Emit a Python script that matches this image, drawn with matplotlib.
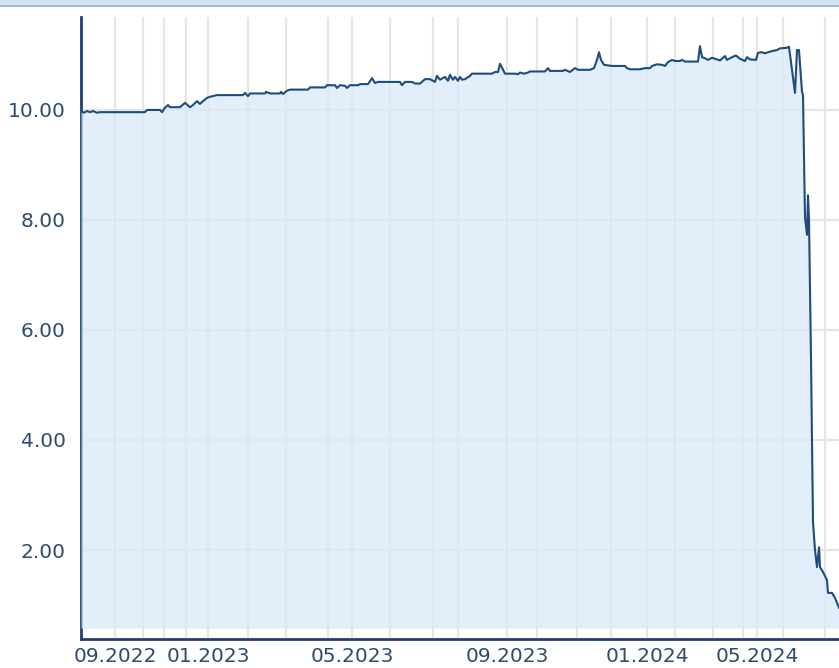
import matplotlib
matplotlib.use("Agg")
import matplotlib.pyplot as plt
from matplotlib.patches import Rectangle

# observation index (trading-day position) and price values
day_index = [0, 3, 6, 9, 12, 16, 19, 64, 66, 79, 81, 84, 87, 89, 99, 104, 109, 112, 116, 119,
             122, 126, 129, 136, 162, 164, 167, 169, 184, 185, 189, 199, 200, 202, 206, 209,
             227, 229, 244, 246, 254, 256, 259, 264, 266, 269, 277, 279, 287, 291, 294, 297,
             319, 321, 324, 331, 334, 339, 344, 349, 354, 356, 359, 364, 367, 369, 372, 374,
             377, 379, 381, 384, 389, 391, 411, 414, 417, 419, 422, 424, 434, 437, 439, 443,
             447, 449, 464, 467, 469, 482, 484, 489, 494, 497, 509, 513, 516, 518, 520, 523,
             531, 544, 546, 549, 559, 564, 569, 571, 576, 581, 584, 587, 591, 594, 599, 601,
             604, 617, 619, 621, 624, 627, 631, 634, 639, 644, 646, 651, 655, 659, 664, 666,
             669, 675, 677, 681, 684, 687, 691, 696, 699, 706, 708, 711, 714, 716, 718, 721,
             722, 724, 726, 727, 728, 730, 732, 734, 736, 738, 739, 742, 746, 747, 751, 754, 758]
price = [9.98, 9.95, 9.98, 9.96, 9.98, 9.95, 9.96, 9.96, 10.00, 10.00, 9.96, 10.04, 10.09, 10.05,
         10.05, 10.13, 10.05, 10.09, 10.16, 10.11, 10.16, 10.22, 10.24, 10.27, 10.27, 10.31,
         10.25, 10.30, 10.30, 10.33, 10.30, 10.30, 10.33, 10.29, 10.35, 10.37, 10.37, 10.41,
         10.41, 10.45, 10.45, 10.40, 10.45, 10.44, 10.40, 10.45, 10.45, 10.47, 10.47, 10.58,
         10.49, 10.51, 10.51, 10.45, 10.51, 10.51, 10.48, 10.48, 10.56, 10.56, 10.51, 10.62,
         10.55, 10.60, 10.53, 10.64, 10.55, 10.60, 10.53, 10.60, 10.55, 10.56, 10.62, 10.66,
         10.66, 10.69, 10.69, 10.84, 10.73, 10.66, 10.66, 10.65, 10.68, 10.66, 10.68, 10.70,
         10.70, 10.76, 10.71, 10.71, 10.73, 10.69, 10.76, 10.73, 10.73, 10.76, 10.91, 11.05,
         10.91, 10.82, 10.80, 10.80, 10.76, 10.74, 10.74, 10.76, 10.76, 10.80, 10.83, 10.82,
         10.80, 10.87, 10.91, 10.89, 10.89, 10.91, 10.88, 10.88, 11.16, 10.96, 10.94, 10.91,
         10.95, 10.93, 10.90, 10.98, 10.91, 10.96, 10.99, 10.93, 10.89, 10.96, 10.92, 10.91,
         11.04, 11.05, 11.03, 11.05, 11.07, 11.09, 11.12, 11.13, 11.15, 10.73, 10.31, 11.09,
         11.09, 10.33, 10.27, 8.05, 7.73, 8.45, 8.00, 5.49, 2.51, 2.00, 1.69, 2.05, 1.69,
         1.60, 1.45, 1.22, 1.22, 1.13, 0.95]

grid_positions = [34, 62, 83, 105, 127, 167, 205, 247, 271, 309, 352, 377, 426, 456, 496,
                  530, 566, 594, 632, 662, 676, 702, 744]
label_positions = [34, 127, 271, 426, 566, 676]
label_texts = ["09.2022", "01.2023", "05.2023", "09.2023", "01.2024", "05.2024"]
y_ticks = [2, 4, 6, 8, 10]

W, H = 839, 668
fig = plt.figure(figsize=(W / 100, H / 100), dpi=100)
fig.patch.set_facecolor("white")

# top band
fig.patches.append(Rectangle((0, (H - 5) / H), 1, 5 / H, transform=fig.transFigure,
                             facecolor="#d2e5f7", edgecolor="none", zorder=0))
fig.patches.append(Rectangle((0, (H - 6.5) / H), 1, 1.5 / H, transform=fig.transFigure,
                             facecolor="#a3bbd3", edgecolor="none", zorder=0))

ax = fig.add_axes([81 / W, (H - 639) / H, (W - 81) / W, (639 - 17) / H])
ax.set_xlim(0, 758)
ax.set_ylim(0.382, 11.69)

label_color = "#2e4b6e"
line_color = "#1f4c7c"

for gx in grid_positions:
    ax.axvline(gx, color="#e6e6e6", lw=1.6, zorder=1)
for gy in y_ticks:
    ax.axhline(gy, color="#e6e6e6", lw=1.6, zorder=1)

ax.fill_between(day_index, price, 0.58, color="#d9e9f7", alpha=0.75, lw=0, zorder=3)
ax.plot(day_index, price, color=line_color, lw=1.5, zorder=4)

for s in ["top", "right"]:
    ax.spines[s].set_visible(False)
for s in ["left", "bottom"]:
    ax.spines[s].set_color("#1e4170")
    ax.spines[s].set_linewidth(2)
    ax.spines[s].set_zorder(2)

ax.set_yticks(y_ticks)
ax.set_yticklabels([f"{v:.2f}" for v in y_ticks])
ax.set_xticks(label_positions)
ax.set_xticklabels(label_texts)
ax.tick_params(axis="both", length=0, labelsize=14.5, labelcolor=label_color)
ax.tick_params(axis="y", pad=11)
ax.tick_params(axis="x", pad=6)
ax.set_facecolor("none")

fig.savefig("out.png", dpi=100)
